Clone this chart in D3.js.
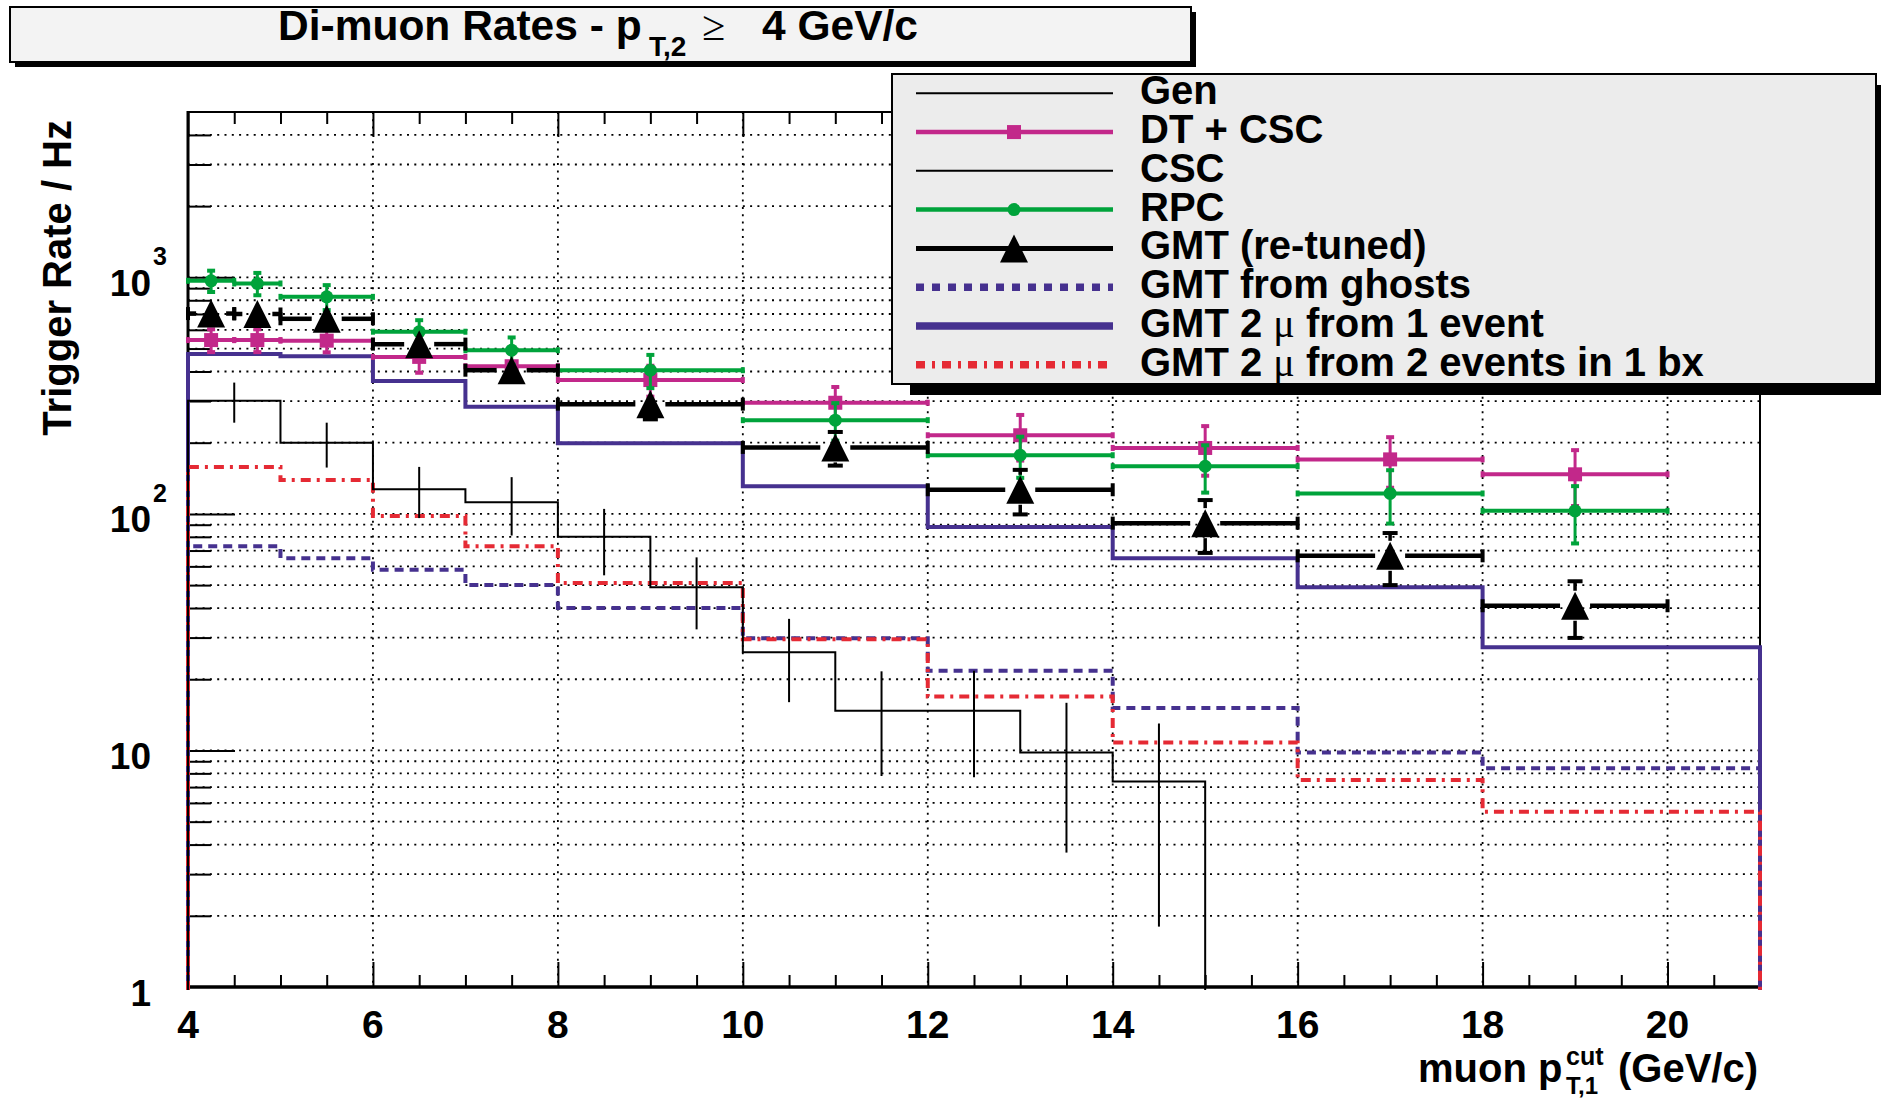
<!DOCTYPE html>
<html>
<head>
<meta charset="utf-8">
<script src="https://cdn.jsdelivr.net/npm/d3@7"></script>
<style>
  html, body { margin: 0; padding: 0; background: #ffffff; }
  svg { display: block; }
  text { font-family: "Liberation Sans", Arial, Helvetica, sans-serif; font-weight: bold; fill: #000; white-space: pre; }
  .greek { font-family: "Liberation Serif", "DejaVu Serif", serif; font-weight: normal; }
</style>
</head>
<body>
<svg id="chart" width="1881" height="1098"></svg>
<script>
// ---- data -----------------------------------------------------------
// GMT histogram bins (GeV/c)
const histEdges = [4, 5, 6, 7, 8, 10, 12, 14, 16, 18, 21];
const gmtOneEvent  = [474, 464, 365, 284, 199, 131, 88, 65, 49, 27.3];
const gmtGhosts    = [73, 65, 58, 50, 40, 29.8, 21.7, 15.1, 9.8, 8.4];
const gmtTwoEvents = [158, 139, 98, 73, 51, 29.5, 16.9, 10.8, 7.5, 5.5];

// generator-level rate, 1 GeV/c bins
const genEdges = [4, 5, 6, 7, 8, 9, 10, 11, 12, 13, 14, 15];
const genRate  = [301, 200, 127, 112, 80, 49, 26, 14.7, 14.7, 9.8, 7.4];
const genErr   = [58, 43, 31, 31, 25, 16.5, 10, 6.9, 7, 6.1, 5.6];

// trigger rates measured in pT cut intervals
const ptLow  = [4, 4.5, 5, 6, 7, 8, 10, 12, 14, 16, 18];
const ptHigh = [4.5, 5, 6, 7, 8, 10, 12, 14, 16, 18, 20];
const dtCscRate = [543, 543, 540, 461, 421, 368, 295, 215, 190, 170, 147];
const dtCscErr  = [60, 60, 58, 66, 60, 55, 49, 47, 45, 41, 39];
const rpcRate   = [967, 942, 827, 589, 492, 405, 249, 177, 159, 122, 103];
const rpcErr    = [100, 102, 100, 70, 65, 65, 45, 35, 36, 31, 28];
const gmtRate   = [703, 700, 668, 522, 405, 291, 191, 126.5, 91.4, 66.5, 40.9];
const gmtErr    = [45, 45, 43, 40, 38, 40, 31, 27, 23, 16.5, 11];

// axis ticks and labels
const xMajorTicks = [4, 6, 8, 10, 12, 14, 16, 18, 20];
const xMinorTicks = d3.range(4, 21.001, 0.5).filter(v => !xMajorTicks.includes(v));
const yDecades = [1, 10, 100, 1000];
const yBaseLabels = ["1", "10", "10", "10"];
const yExponents = ["", "", "2", "3"];

const legendLabels = ["Gen", "DT + CSC", "CSC", "RPC", "GMT (re-tuned)", "GMT from ghosts",
                      "GMT 2 \u03bc from 1 event", "GMT 2 \u03bc from 2 events in 1 bx"];

// ---- colours --------------------------------------------------------
const MAGENTA = "#c2288a";
const GREEN = "#00a33b";
const PURPLE = "#46318f";
const RED = "#e52a34";

// ---- frame & scales -------------------------------------------------
const svg = d3.select("#chart");
const L = 188, R = 1760, T = 112, B = 987;
const x = d3.scaleLinear().domain([4, 21]).range([L, R]);
const y = d3.scaleLog().domain([1, 5000]).range([B, T]);
const yMinorTicks = [];
[1, 10, 100, 1000].forEach(d => { for (let k = 1; k <= 9; k++) { const v = d * k; if (v > 1 && v < 5000) yMinorTicks.push(v); } });

// clip for the data
svg.append("defs").append("clipPath").attr("id", "plotclip")
  .append("rect").attr("x", L - 3).attr("y", T).attr("width", R - L + 6).attr("height", B - T + 3);

// grid
const grid = svg.append("g");
grid.selectAll("line.gy").data(yMinorTicks).join("line")
  .attr("x1", L).attr("x2", R).attr("y1", d => y(d)).attr("y2", d => y(d))
  .attr("stroke", "#000").attr("stroke-width", 1.8).attr("stroke-dasharray", "2,5.3");
grid.selectAll("line.gx").data(xMajorTicks.filter(v => v > 4)).join("line")
  .attr("x1", d => x(d)).attr("x2", d => x(d)).attr("y1", T).attr("y2", B)
  .attr("stroke", "#000").attr("stroke-width", 1.8).attr("stroke-dasharray", "2,5.3");

// ticks via d3 axes (ticks point into the frame)
function styleAxis(g) { g.select(".domain").remove(); g.selectAll("text").remove(); g.selectAll("line").attr("stroke", "#000").attr("stroke-width", 2); }
svg.append("g").attr("transform", `translate(0,${B})`).call(d3.axisBottom(x).tickValues(xMinorTicks).tickSize(-12)).call(styleAxis);
svg.append("g").attr("transform", `translate(0,${B})`).call(d3.axisBottom(x).tickValues(xMajorTicks).tickSize(-25)).call(styleAxis);
svg.append("g").attr("transform", `translate(0,${T})`).call(d3.axisTop(x).tickValues(xMinorTicks).tickSize(-12)).call(styleAxis);
svg.append("g").attr("transform", `translate(0,${T})`).call(d3.axisTop(x).tickValues(xMajorTicks).tickSize(-25)).call(styleAxis);
svg.append("g").attr("transform", `translate(${L},0)`).call(d3.axisLeft(y).tickValues(yMinorTicks.filter(v => !yDecades.includes(v))).tickSize(-23)).call(styleAxis);
svg.append("g").attr("transform", `translate(${L},0)`).call(d3.axisLeft(y).tickValues(yDecades.filter(v => v > 1)).tickSize(-47)).call(styleAxis);

// frame
svg.append("line").attr("x1", L).attr("x2", R).attr("y1", T).attr("y2", T).attr("stroke", "#000").attr("stroke-width", 2);
svg.append("line").attr("x1", R).attr("x2", R).attr("y1", T).attr("y2", B).attr("stroke", "#000").attr("stroke-width", 2);
svg.append("line").attr("x1", L).attr("x2", R + 1).attr("y1", B).attr("y2", B).attr("stroke", "#000").attr("stroke-width", 3.5);
svg.append("line").attr("x1", L).attr("x2", L).attr("y1", T - 1).attr("y2", B).attr("stroke", "#000").attr("stroke-width", 3);

// axis labels
svg.append("g").selectAll("text").data(xMajorTicks).join("text")
  .attr("x", d => x(d)).attr("y", 1038).attr("text-anchor", "middle")
  .style("font-size", "39px").text(d => d);
const yl = svg.append("g");
yl.selectAll("text.base").data(yDecades).join("text")
  .attr("x", 151).attr("y", d => y(d) + 18.5).attr("text-anchor", "end")
  .style("font-size", "37px").text((d, i) => yBaseLabels[i]);
yl.selectAll("text.exp").data(yDecades).join("text")
  .attr("x", 153).attr("y", d => y(d) - 12).attr("text-anchor", "start")
  .style("font-size", "25px").text((d, i) => yExponents[i]);

// axis titles
svg.append("text").attr("transform", "translate(71,120) rotate(-90)").attr("text-anchor", "end")
  .style("font-size", "40px").text("Trigger Rate / Hz");
const xt = svg.append("text").attr("y", 1082).style("font-size", "40px");
xt.append("tspan").attr("x", 1418).text("muon p");
xt.append("tspan").attr("x", 1566).attr("y", 1065).style("font-size", "25px").text("cut");
xt.append("tspan").attr("x", 1566).attr("y", 1094).style("font-size", "24px").text("T,1");
xt.append("tspan").attr("x", 1618).attr("y", 1082).text("(GeV/c)");

// ---- data drawing -------------------------------------------------
const plot = svg.append("g").attr("clip-path", "url(#plotclip)");
const yv = v => (v > 0 ? y(Math.max(v, 1)) : B + 4);

function histPoints(edges, vals) {
  const pts = [[x(edges[0]), B + 4]];
  vals.forEach((v, i) => { pts.push([x(edges[i]), yv(v)]); pts.push([x(edges[i + 1]), yv(v)]); });
  pts.push([x(edges[edges.length - 1]), B + 4]);
  return pts;
}
const line = d3.line();

plot.append("path").attr("d", line(histPoints(histEdges, gmtOneEvent)))
  .attr("fill", "none").attr("stroke", PURPLE).attr("stroke-width", 4);
plot.append("path").attr("d", line(histPoints(histEdges, gmtGhosts)))
  .attr("fill", "none").attr("stroke", PURPLE).attr("stroke-width", 4).attr("stroke-dasharray", "9,6");
plot.append("path").attr("d", line(histPoints(histEdges, gmtTwoEvents)))
  .attr("fill", "none").attr("stroke", RED).attr("stroke-width", 4).attr("stroke-dasharray", "10,6,3,6");
plot.append("path").attr("d", line(histPoints(genEdges, genRate)))
  .attr("fill", "none").attr("stroke", "#000").attr("stroke-width", 2);
plot.append("g").selectAll("line").data(genRate).join("line")
  .attr("x1", (d, i) => x((genEdges[i] + genEdges[i + 1]) / 2))
  .attr("x2", (d, i) => x((genEdges[i] + genEdges[i + 1]) / 2))
  .attr("y1", (d, i) => yv(d + genErr[i])).attr("y2", (d, i) => yv(d - genErr[i]))
  .attr("stroke", "#000").attr("stroke-width", 2);

function trianglePath(cx, cy, s) {
  return `M${cx - s},${cy + s}L${cx + s},${cy + s}L${cx},${cy - s}Z`;
}
function drawMarker(g, kind, cx, cy, color) {
  if (kind === "square") g.append("rect").attr("x", cx - 7).attr("y", cy - 7).attr("width", 14).attr("height", 14).attr("fill", color);
  else if (kind === "circle") g.append("circle").attr("cx", cx).attr("cy", cy).attr("r", 6.5).attr("fill", color);
  else if (kind === "triangle") g.append("path").attr("d", trianglePath(cx, cy, 14)).attr("fill", color);
}

function drawPoints(vals, errs, o) {
  const g = plot.append("g");
  vals.forEach((v, i) => {
    const cx = x((ptLow[i] + ptHigh[i]) / 2), cy = y(v);
    const x0 = x(ptLow[i]), x1 = x(ptHigh[i]);
    const yTop = y(v + errs[i]), yBot = yv(v - errs[i]);
    const seg = (ax, ay, bx, by, w) => g.append("line").attr("x1", ax).attr("y1", ay).attr("x2", bx).attr("y2", by)
      .attr("stroke", o.color).attr("stroke-width", w);
    // horizontal bar (with a gap around large markers)
    if (o.gap) { seg(x0, cy, cx - o.gap, cy, o.w); seg(cx + o.gap, cy, x1, cy, o.w); }
    else seg(x0, cy, x1, cy, o.w);
    // vertical bar
    if (o.gap) {
      if (cy - yTop > o.gap) seg(cx, yTop, cx, cy - o.gap, o.vw);
      if (yBot - cy > o.gap) seg(cx, cy + o.gap, cx, yBot, o.vw);
    } else seg(cx, yTop, cx, yBot, o.vw);
    // end caps
    seg(x0, cy - o.capH, x0, cy + o.capH, o.capW);
    seg(x1, cy - o.capH, x1, cy + o.capH, o.capW);
    if (!o.gap || cy - yTop > o.gap) seg(cx - o.capV, yTop, cx + o.capV, yTop, o.capW);
    if (!o.gap || yBot - cy > o.gap) seg(cx - o.capV, yBot, cx + o.capV, yBot, o.capW);
    drawMarker(g, o.marker, cx, cy, o.color);
  });
}
drawPoints(dtCscRate, dtCscErr, { color: MAGENTA, w: 4, vw: 3, capH: 3, capV: 4, capW: 4, marker: "square" });
drawPoints(rpcRate, rpcErr, { color: GREEN, w: 4, vw: 3, capH: 3, capV: 4, capW: 4, marker: "circle" });
drawPoints(gmtRate, gmtErr, { color: "#000", w: 4.5, vw: 3.5, capH: 6.5, capV: 7.5, capW: 4, marker: "triangle", gap: 15 });

// ---- title box ------------------------------------------------------
svg.append("rect").attr("x", 15).attr("y", 12).attr("width", 1181).attr("height", 55).attr("fill", "#000");
svg.append("rect").attr("x", 10).attr("y", 7).attr("width", 1181).attr("height", 55)
  .attr("fill", "#f3f3f3").attr("stroke", "#000").attr("stroke-width", 2);
const title = svg.append("text").attr("y", 40).style("font-size", "42.5px");
title.append("tspan").attr("x", 278).text("Di-muon Rates - p");
title.append("tspan").attr("x", 649).attr("y", 56).style("font-size", "28px").text("T,2");
title.append("tspan").attr("x", 702).attr("y", 40).attr("class", "greek").style("font-size", "42px").text("\u2265");
title.append("tspan").attr("x", 762).attr("y", 40).text("4 GeV/c");

// ---- legend ---------------------------------------------------------
svg.append("rect").attr("x", 910).attr("y", 85).attr("width", 984).attr("height", 310).attr("fill", "#000");
svg.append("rect").attr("x", 892).attr("y", 74).attr("width", 984).attr("height", 310)
  .attr("fill", "#ececec").attr("stroke", "#000").attr("stroke-width", 2);
const legendStyles = [
  { color: "#000", w: 2 },
  { color: MAGENTA, w: 4.5, marker: "square" },
  { color: "#000", w: 2 },
  { color: GREEN, w: 4.5, marker: "circle" },
  { color: "#000", w: 5, marker: "triangle" },
  { color: PURPLE, w: 7.5, dash: "8,8" },
  { color: PURPLE, w: 7.5 },
  { color: RED, w: 7.5, dash: "9,7,3,7" }
];
const lg = svg.append("g");
legendLabels.forEach((lab, i) => {
  const ry = 93.3 + i * 38.77;
  const s = legendStyles[i];
  lg.append("line").attr("x1", 916).attr("x2", 1113).attr("y1", ry).attr("y2", ry)
    .attr("stroke", s.color).attr("stroke-width", s.w).attr("stroke-dasharray", s.dash || null);
  if (s.marker) drawMarker(lg, s.marker, 1014, ry, s.color);
  const t = lg.append("text").attr("x", 1140).attr("y", ry + 11).style("font-size", "40px");
  const parts = lab.split("\u03bc");
  if (parts.length === 1) t.text(lab);
  else {
    t.append("tspan").text(parts[0]);
    t.append("tspan").attr("class", "greek").text("\u03bc");
    t.append("tspan").text(parts[1]);
  }
});
</script>
</body>
</html>
